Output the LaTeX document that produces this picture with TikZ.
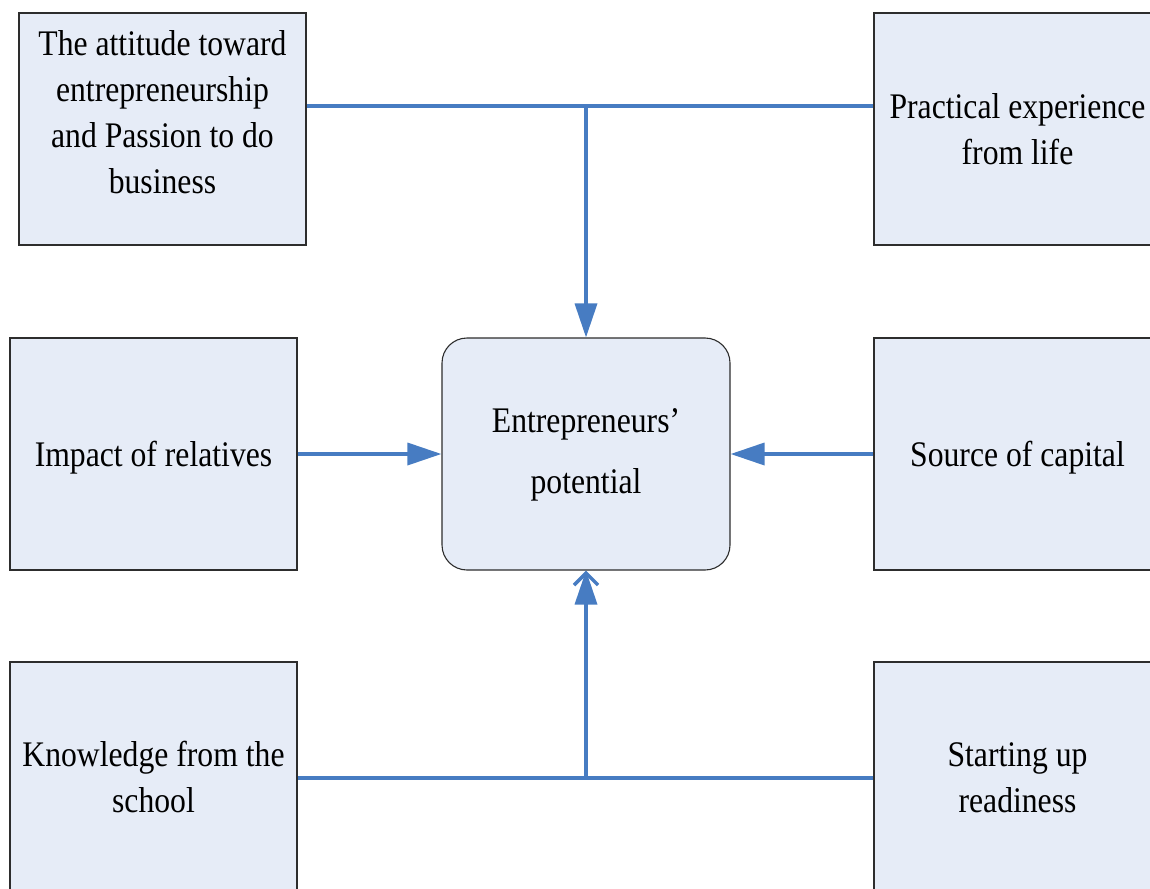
\documentclass[tikz,border=0pt]{standalone}
\usepackage{fontspec}
\setmainfont[FakeStretch=0.88]{Liberation Serif}
\usetikzlibrary{arrows.meta}
\definecolor{boxfill}{RGB}{230,236,247}
\definecolor{linkblue}{RGB}{71,124,194}
\definecolor{boxline}{RGB}{45,45,45}
% centred block of lines whose reference point is the first baseline
\newcommand{\stacklines}[1]{\parbox[t]{300pt}{\centering #1}}
\begin{document}
\begin{tikzpicture}[x=1pt,y=-1pt,
  factor/.style={draw=boxline, line width=1.1pt, fill=boxfill, inner sep=0pt,
    minimum width=287pt, minimum height=232pt},
  core/.style={factor, minimum width=288pt, rounded corners=25pt},
  caption/.style={anchor=base, inner sep=0pt, font=\fontsize{36}{46}\selectfont},
  link/.style={draw=linkblue, line width=3.5pt},
  tip/.style={-{Triangle[length=34pt,width=22pt]}}]
\clip (0,0) rectangle (1150,888);

% factor boxes
\node[factor] (att)   at (162.5,129) {};
\node[factor] (prac)  at (1017.5,129) {};
\node[factor] (rel)   at (153.5,454) {};
\node[core]   (pot)   at (586,454) {};
\node[factor] (cap)   at (1017.5,454) {};
\node[factor] (know)  at (153.5,778) {};
\node[factor] (start) at (1017.5,778) {};

% box captions
\node[caption] (attT) at (162.5,56)
  {\stacklines{The attitude toward\\entrepreneurship\\and Passion to do\\business}};
\node[caption] (pracT) at (1017.5,118)
  {\stacklines{Practical experience\\from life}};
\node[caption] (relT) at (153.5,466) {Impact of relatives};
\node[caption, font=\fontsize{36}{61}\selectfont] (potT) at (586,432)
  {\stacklines{Entrepreneurs’\\potential}};
\node[caption] (capT) at (1017.5,466) {Source of capital};
\node[caption] (knowT) at (153.5,766)
  {\stacklines{Knowledge from the\\school}};
\node[caption] (startT) at (1017.5,766)
  {\stacklines{Starting up\\readiness}};

% junctions of the shared feeder lines
\coordinate (jt) at (586,106);
\coordinate (jb) at (586,778);

% connectors
\draw[link] (att.east |- jt) -- (prac.west |- jt);
\draw[link, tip] (jt) -- (pot.north);
\draw[link, tip] (rel.east) -- (pot.west);
\draw[link, tip] (cap.west) -- (pot.east);
\draw[link] (know.east |- jb) -- (start.west |- jb);
\draw[link, tip] (jb) -- (pot.south);
\draw[link, -{Straight Barb[length=12pt,width=24pt]}] (jb) -- (pot.south);
\end{tikzpicture}
\end{document}
